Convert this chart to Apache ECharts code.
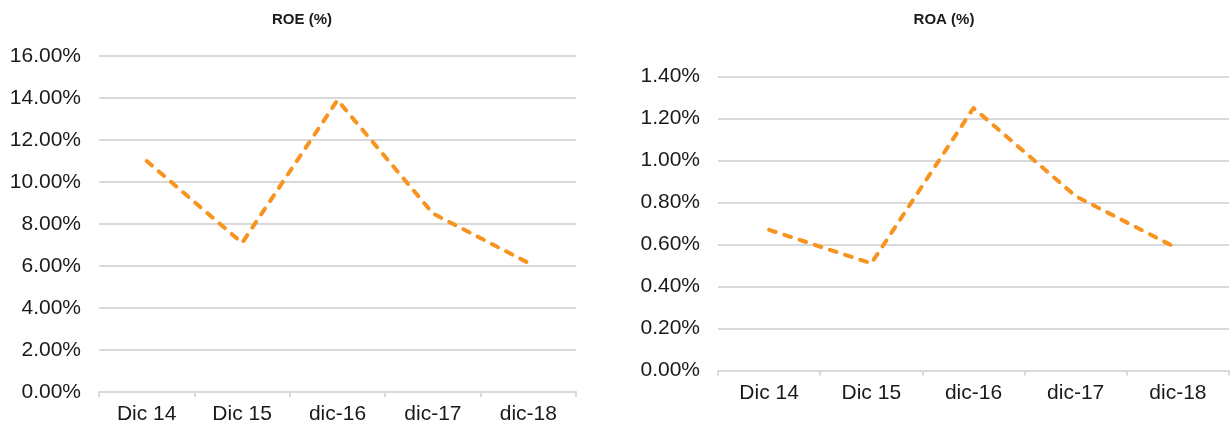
<!DOCTYPE html>
<html>
<head>
<meta charset="utf-8">
<script src="https://cdn.jsdelivr.net/npm/echarts@6/dist/echarts.min.js"></script>
<style>
html,body{margin:0;padding:0;background:#fff;}
#chart{width:1231px;height:429px;}
</style>
</head>
<body>
<div id="chart"></div>
<script>
const categories = ['Dic 14', 'Dic 15', 'dic-16', 'dic-17', 'dic-18'];
const roeValues = [11.0, 7.1, 13.9, 8.5, 6.15];
const roaValues = [0.67, 0.51, 1.25, 0.83, 0.58];
const roeTitle = 'ROE (%)';
const roaTitle = 'ROA (%)';

const FONT = '"Liberation Sans", Arial, sans-serif';
const LINE_COLOR = '#F7931E';
const GRID_COLOR = '#D9D9D9';
const TEXT_COLOR = '#1a1a1a';

function xAxisCfg(gridIndex) {
  return {
    type: 'category', gridIndex, data: categories, boundaryGap: true,
    axisLine: { lineStyle: { color: GRID_COLOR, width: 2 } },
    axisTick: { show: true, length: 5, lineStyle: { color: GRID_COLOR, width: 2 } },
    axisLabel: { color: TEXT_COLOR, fontFamily: FONT, fontSize: 21, margin: 12 },
    splitLine: { show: false }
  };
}
function yAxisCfg(gridIndex, max, interval) {
  return {
    type: 'value', gridIndex, min: 0, max, interval,
    axisLine: { show: false }, axisTick: { show: false },
    axisLabel: { color: TEXT_COLOR, fontFamily: FONT, fontSize: 21, margin: 18,
      formatter: v => v.toFixed(2) + '%' },
    splitLine: { lineStyle: { color: GRID_COLOR, width: 2 } }
  };
}
function seriesCfg(idx, data) {
  return {
    type: 'line', xAxisIndex: idx, yAxisIndex: idx, data,
    symbol: 'none', smooth: false, animation: false,
    lineStyle: { color: LINE_COLOR, width: 4, type: [7, 9], cap: 'round', join: 'round' }
  };
}

const chart = echarts.init(document.getElementById('chart'), null, { renderer: 'canvas' });
chart.setOption({
  animation: false,
  backgroundColor: '#fff',
  title: [
    { text: roeTitle, left: 297, top: 7, textAlign: 'center',
      textStyle: { fontFamily: FONT, fontSize: 15, fontWeight: 'bold', color: TEXT_COLOR } },
    { text: roaTitle, left: 939, top: 7, textAlign: 'center',
      textStyle: { fontFamily: FONT, fontSize: 15, fontWeight: 'bold', color: TEXT_COLOR } }
  ],
  grid: [
    { left: 99, right: 655, top: 56, bottom: 37 },
    { left: 718, right: 2, top: 76.5, bottom: 58.5 }
  ],
  xAxis: [xAxisCfg(0), xAxisCfg(1)],
  yAxis: [yAxisCfg(0, 16, 2), yAxisCfg(1, 1.4, 0.2)],
  series: [seriesCfg(0, roeValues), seriesCfg(1, roaValues)]
});
</script>
</body>
</html>
